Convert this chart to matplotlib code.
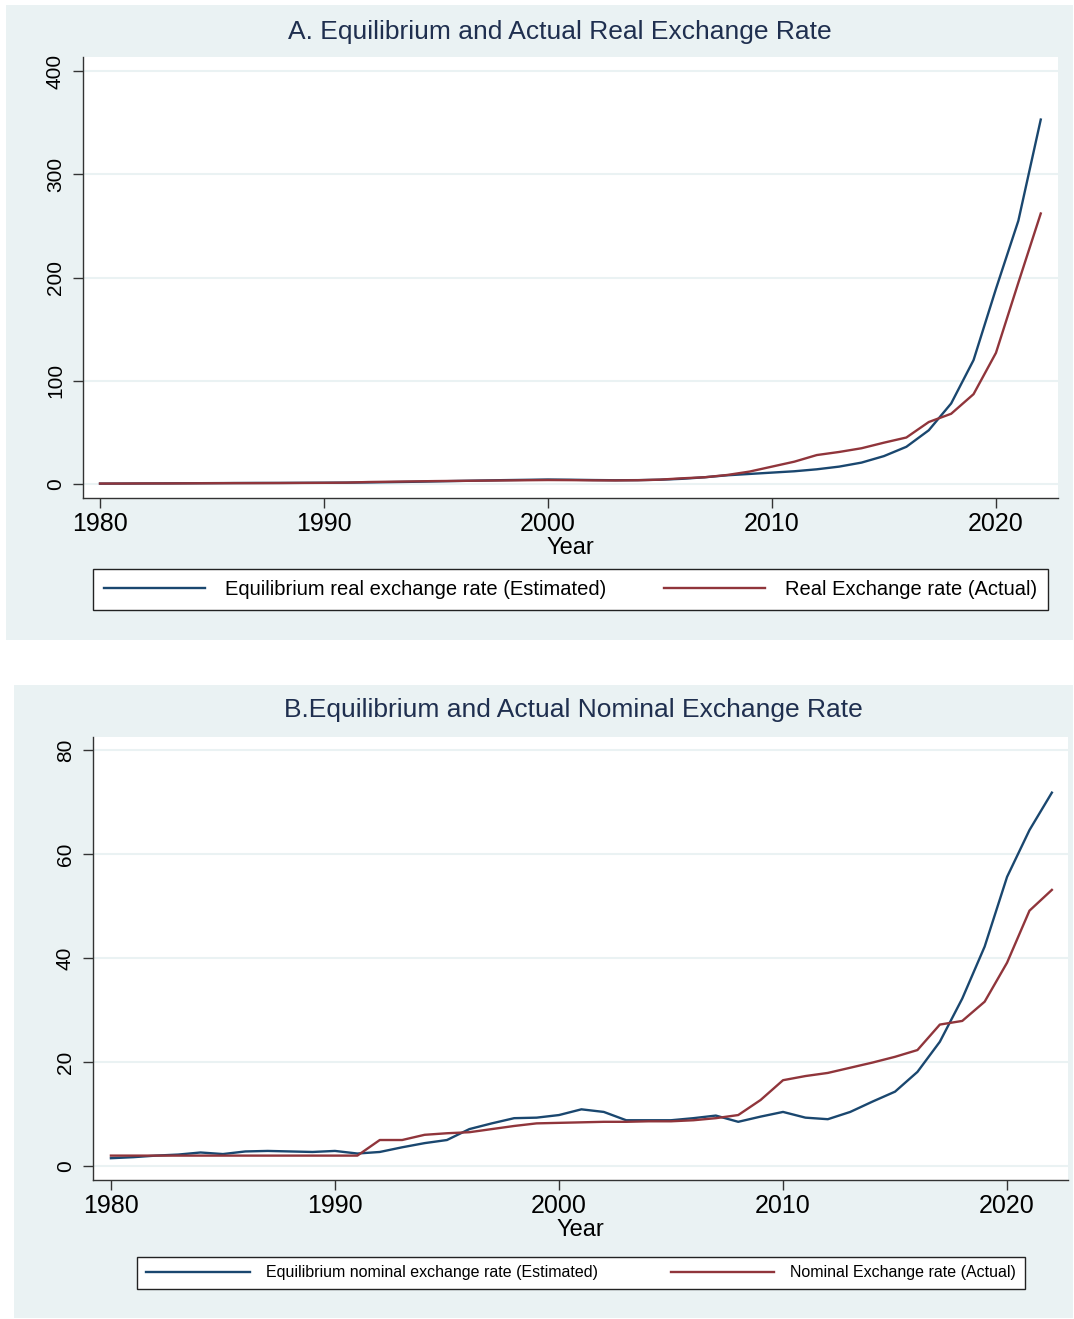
import matplotlib
matplotlib.use('Agg')
import matplotlib.pyplot as plt
from matplotlib.patches import Rectangle

plt.rcParams['font.family'] = ['Liberation Sans', 'DejaVu Sans']

years = list(range(1980, 2023))

# Panel A: real exchange rate
real_eq = [0.3, 0.4, 0.5, 0.6, 0.7, 0.8, 0.9, 1.0, 1.0, 1.1, 1.2, 1.3, 1.5, 1.8, 2.1, 2.5, 2.9, 3.3, 3.7, 4.0,
           4.3, 4.1, 3.8, 3.6, 3.7, 4.1, 5.0, 6.5, 8.4, 9.7, 11.0, 12.3, 14.2, 16.8, 20.7, 27.0, 36.0,
           52.0, 78.0, 120.0, 189.0, 255.0, 353.0]
real_act = [0.4, 0.4, 0.5, 0.5, 0.6, 0.7, 0.8, 0.8, 0.9, 1.0, 1.1, 1.3, 1.9, 2.2, 2.5, 2.8, 3.0, 3.2, 3.4, 3.6,
            3.8, 3.7, 3.5, 3.4, 3.6, 4.2, 5.5, 6.5, 8.7, 12.0, 16.8, 21.6, 28.0, 31.0, 34.6, 40.0, 45.0,
            60.0, 68.0, 87.0, 127.0, 195.0, 262.0]

# Panel B: nominal exchange rate
nom_eq = [1.5, 1.7, 2.0, 2.2, 2.6, 2.3, 2.8, 2.9, 2.8, 2.7, 2.9, 2.4, 2.7, 3.6, 4.4, 5.0, 7.1, 8.2, 9.2, 9.3,
          9.8, 10.9, 10.4, 8.8, 8.8, 8.8, 9.2, 9.7, 8.5, 9.5, 10.4, 9.3, 9.0, 10.4, 12.4, 14.3, 18.1,
          23.9, 32.2, 42.2, 55.6, 64.6, 71.8]
nom_act = [2.0, 2.0, 2.0, 2.0, 2.0, 2.0, 2.0, 2.0, 2.0, 2.0, 2.0, 2.0, 5.0, 5.0, 6.0, 6.3, 6.5, 7.1, 7.7, 8.2,
           8.3, 8.4, 8.5, 8.5, 8.6, 8.6, 8.8, 9.2, 9.8, 12.7, 16.5, 17.3, 17.9, 18.9, 19.9, 21.0, 22.3,
           27.2, 27.9, 31.6, 39.1, 49.1, 53.1]

x_ticks = [1980, 1990, 2000, 2010, 2020]

BLUE = '#1a476f'
RED = '#90353b'
BG = '#eaf2f3'
W, H = 1074, 1319

fig = plt.figure(figsize=(W / 100, H / 100), dpi=100)
fig.patch.set_facecolor('white')


def px_rect(x0, y0, x1, y1):
    # pixel box (top-left origin) -> figure fraction [left, bottom, width, height]
    return [x0 / W, 1 - y1 / H, (x1 - x0) / W, (y1 - y0) / H]


def panel(box, axbox, title, title_xy, eq, act, ylim, yticks, xlim, labels, legbox, legsize, handlelen):
    l, b, w, h = px_rect(*box)
    fig.patches.append(Rectangle((l, b), w, h, transform=fig.transFigure,
                                 facecolor=BG, edgecolor='none', zorder=-5))
    ax = fig.add_axes(px_rect(*axbox))
    ax.set_facecolor('white')
    ax.plot(years, eq, color=BLUE, lw=1.7, label=labels[0])
    ax.plot(years, act, color=RED, lw=1.7, label=labels[1])
    ax.set_xlim(*xlim)
    ax.set_ylim(*ylim)
    ax.set_xticks(x_ticks)
    ax.set_yticks(yticks)
    ax.grid(axis='y', color=BG, lw=1.5)
    ax.set_axisbelow(True)
    for s in ('top', 'right'):
        ax.spines[s].set_visible(False)
    for s in ('left', 'bottom'):
        ax.spines[s].set_color('#333333')
        ax.spines[s].set_linewidth(1.0)
    ax.tick_params(axis='x', labelsize=18, length=7, width=1, color='#333333', pad=3)
    ax.tick_params(axis='y', labelsize=15, length=7, width=1, color='#333333', pad=6)
    for t in ax.get_yticklabels():
        t.set_rotation(90)
        t.set_va('center')
    ax.set_xlabel('Year', fontsize=17, labelpad=1)
    fig.text(title_xy[0] / W, 1 - title_xy[1] / H, title, ha='center', va='center',
             fontsize=19, color='#1f2f4f')
    leg = ax.legend(loc='center', bbox_to_anchor=px_rect(*legbox), bbox_transform=fig.transFigure,
                    mode='expand', ncol=2, fontsize=legsize, handlelength=handlelen,
                    frameon=True, fancybox=False, edgecolor='#222222', framealpha=1,
                    borderaxespad=0, borderpad=0.55, columnspacing=2.5, handletextpad=1.0)
    leg.get_frame().set_linewidth(1.0)
    return ax


panel((6, 5, 1073, 640), (83, 57, 1058, 498),
      'A. Equilibrium and Actual Real Exchange Rate', (560, 32),
      real_eq, real_act, (-13.6, 413.6), [0, 100, 200, 300, 400], (1979.24, 2022.77),
      ['Equilibrium real exchange rate (Estimated)', 'Real Exchange rate (Actual)'],
      (93, 570, 1048, 609), 14.5, 5.0)

panel((14, 685, 1073, 1318), (93, 737, 1068, 1180),
      'B.Equilibrium and Actual Nominal Exchange Rate', (573, 710),
      nom_eq, nom_act, (-2.69, 82.5), [0, 20, 40, 60, 80], (1979.2, 2022.72),
      ['Equilibrium nominal exchange rate (Estimated)', 'Nominal Exchange rate (Actual)'],
      (137, 1253, 1025, 1293), 11.5, 6.5)

fig.savefig('out.png', dpi=100)
